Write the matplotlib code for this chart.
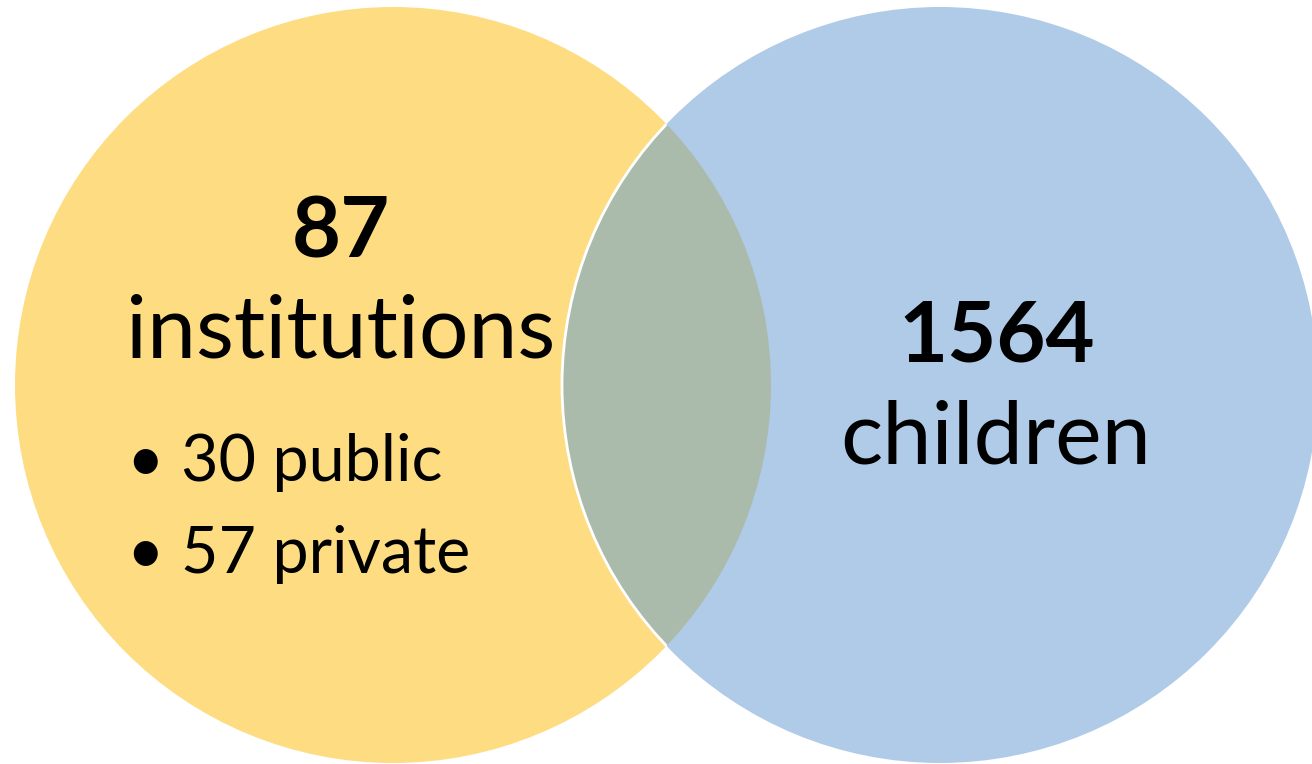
import matplotlib
matplotlib.use("Agg")
import matplotlib.pyplot as plt
from matplotlib.patches import Circle

# Data
set_counts = ["87", "1564"]
set_labels = ["institutions", "children"]
sub_items = ["30 public", "57 private"]

yellow = "#FDDC82"
blue = "#AFCBE8"
overlap = "#ABBBAB"

plt.rcParams['font.family'] = ['Lato', 'DejaVu Sans']

fig = plt.figure(figsize=(13.12, 7.64), dpi=100)
ax = fig.add_axes([0, 0, 1, 1])
ax.set_xlim(0, 1312)
ax.set_ylim(764, 0)
ax.set_aspect('equal')
ax.axis('off')

r = 378
c1 = (393, 385)
c2 = (940, 385)

ax.add_patch(Circle(c1, r, facecolor=yellow, edgecolor='none', zorder=1))
ax.add_patch(Circle(c2, r, facecolor=blue, edgecolor='none', zorder=2))
clipc = Circle(c1, r, transform=ax.transData)
ov = Circle(c2, r, facecolor=overlap, edgecolor='white', linewidth=2, zorder=3)
ax.add_patch(ov)
ov.set_clip_path(clipc)

ax.text(341, 258, set_counts[0], fontsize=61, fontweight='bold', ha='center', va='baseline', zorder=5)
ax.text(341, 358, set_labels[0], fontsize=63, ha='center', va='baseline', zorder=5)
ax.text(997, 362, set_counts[1], fontsize=61, fontweight='bold', ha='center', va='baseline', zorder=5)
ax.text(996, 463, set_labels[1], fontsize=63.5, ha='center', va='baseline', zorder=5)
for y, item in zip([481, 573], sub_items):
    ax.text(127, y, "\u2022 " + item, fontsize=46.5, ha='left', va='baseline', zorder=5)

fig.savefig("out.png", dpi=100)
